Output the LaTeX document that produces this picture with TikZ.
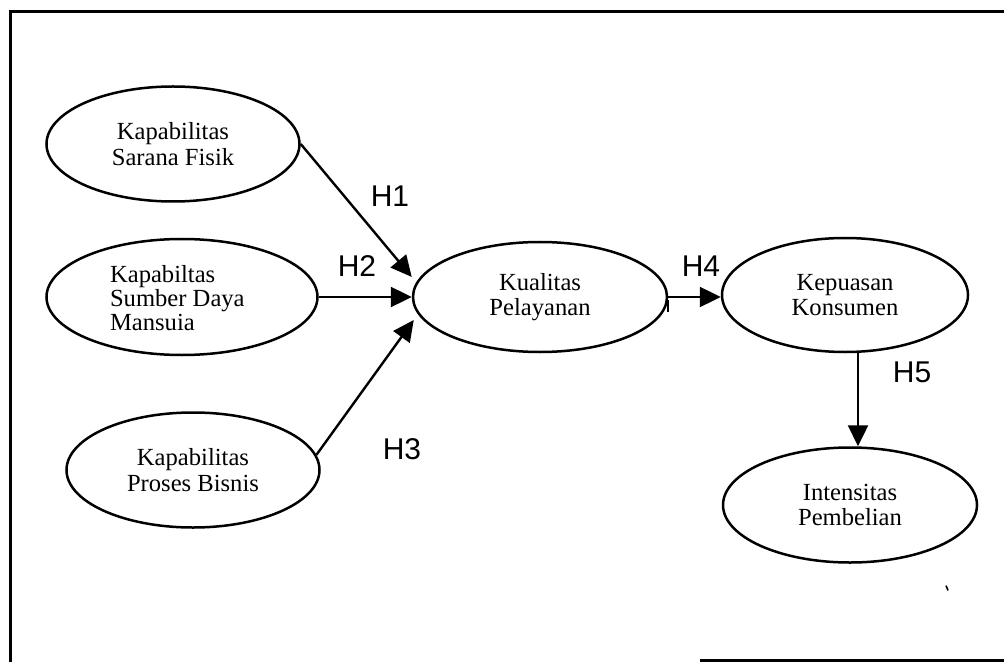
\documentclass[tikz,border=0pt]{standalone}
\usepackage{fontspec}
\setmainfont{Liberation Serif}
\newfontfamily\hfont{Liberation Sans}
\usetikzlibrary{shapes.geometric,arrows.meta}
\begin{document}
\begin{tikzpicture}[x=0.5pt,y=-0.5pt,
  construct/.style={ellipse, draw, line width=1.25pt, inner sep=0pt, align=center,
    font=\fontsize{12.3}{12.8}\selectfont},
  link/.style={line width=1.2pt, -{Triangle[length=10.5pt,width=10pt]}},
  hyp/.style={font=\hfont\fontsize{15}{16}\selectfont},
  frameline/.style={line width=1.5pt}]
\useasboundingbox (0,0) rectangle (1004,662);

% partial outer frame
\draw[frameline] (1004,12) -- (10,12) -- (10,662);
\draw[frameline] (700,660) -- (1004,660);

% constructs
\node[construct, minimum width=126.5pt, minimum height=57.5pt] (e1) at (173,144)
  {Kapabilitas\\Sarana Fisik};
\node[construct, minimum width=135.5pt, minimum height=58pt] (e2) at (182,297) {};
\node[anchor=west, align=left, font=\fontsize{12.3}{11.9}\selectfont] (e2t) at (103,298)
  {Kapabiltas\\Sumber Daya\\Mansuia};
\node[construct, minimum width=126.5pt, minimum height=57.5pt] (e3) at (193,470)
  {Kapabilitas\\Proses Bisnis};
\node[construct, minimum width=127pt, minimum height=55pt] (k) at (540,297)
  {Kualitas\\Pelayanan};
\node[construct, minimum width=123pt, minimum height=57pt] (kp) at (845,295)
  {Kepuasan\\Konsumen};
\node[construct, minimum width=127pt, minimum height=57.5pt] (ip) at (850,505)
  {Intensitas\\Pembelian};

% hypothesised paths
\draw[link] (e1.east) -- ([yshift=10pt]k.west);
\draw[link] (e2.east) -- (k.west);
\draw[link] (e3.7) -- ([xshift=1pt,yshift=-11.5pt]k.west);
\draw[link] (k.east) -- (k.east -| kp.west);
\draw[link] ([xshift=6.5pt]kp.south) -- ([xshift=6.5pt]kp.south |- ip.north);

% small marks
\draw[line width=0.9pt] ([yshift=-1.5pt]k.east) -- ([yshift=-7.5pt]k.east);
\coordinate (speck) at (947,588);
\draw[line width=0.8pt] ([xshift=-0.5pt,yshift=1.2pt]speck) -- ([xshift=0.5pt,yshift=-1.2pt]speck);

% hypothesis labels
\node[hyp] (h1) at (390,196) {H1};
\node[hyp] (h2) at (357,266) {H2};
\node[hyp] (h3) at (402,449) {H3};
\node[hyp] (h4) at (701,266) {H4};
\node[hyp] (h5) at (912,372) {H5};
\end{tikzpicture}
\end{document}
